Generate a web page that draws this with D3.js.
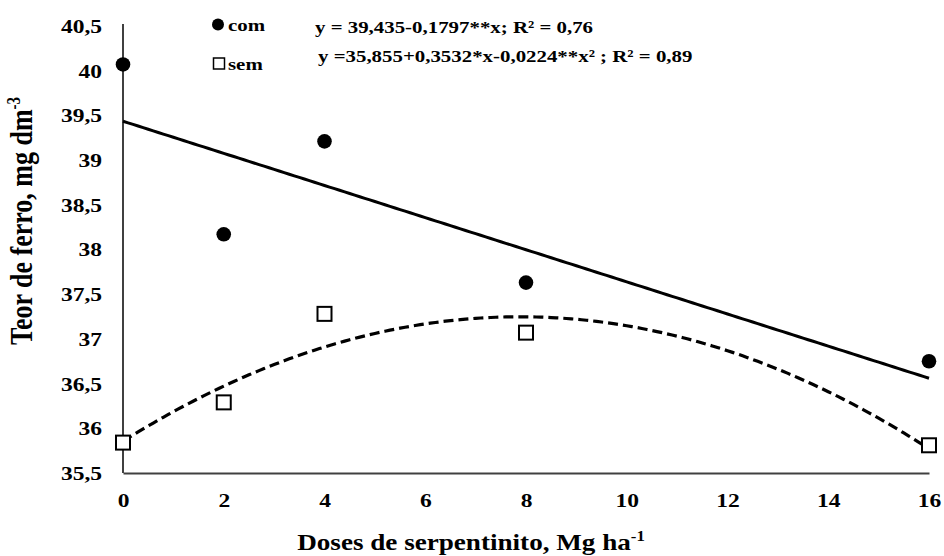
<!DOCTYPE html>
<html><head><meta charset="utf-8">
<script src="https://cdn.jsdelivr.net/npm/d3@7"></script>
<style>body{margin:0;background:#fff}svg{display:block}svg text{font-family:"Liberation Serif","Times New Roman",serif !important;font-weight:bold;fill:#000}</style>
</head><body>
<svg id="c" width="944" height="556"></svg>
<script>
const doses = [0, 2, 4, 8, 16];
const comValues = [40.07, 38.17, 39.21, 37.63, 36.75];
const semValues = [35.84, 36.29, 37.28, 37.07, 35.81];
const xTicks = [0, 2, 4, 6, 8, 10, 12, 14, 16];
const yTicks = [35.5, 36, 36.5, 37, 37.5, 38, 38.5, 39, 39.5, 40, 40.5];
const comCoef = [39.435, -0.1797];
const semCoef = [35.855, 0.3532, -0.0224];
const eqCom = "y = 39,435-0,1797**x; R² = 0,76";
const eqSem = "y =35,855+0,3532*x-0,0224**x² ; R² = 0,89";

const SX = 1.2; // horizontal stretch of the original typography
const FONT = '"Liberation Serif", "Times New Roman", serif';
const svg = d3.select("#c");
const x = d3.scaleLinear().domain([0, 16]).range([123, 929]);
const y = d3.scaleLinear().domain([35.5, 40.5]).range([473, 26]);
const fmt = d => String(d).replace(".", ",");

// axes
const yAxis = svg.append("g").attr("transform", "translate(123,0)")
  .call(d3.axisLeft(y).tickValues(yTicks).tickSize(0).tickFormat(fmt));
yAxis.attr("font-family", FONT).attr("font-size", null);
yAxis.select(".domain").attr("stroke", "#000").attr("stroke-width", 1.5).attr("d", "M0,24V473");
yAxis.selectAll(".tick text").attr("x", 0).attr("dy", "0.33em").attr("font-size", 19.6)
  .style("font-family", FONT).style("font-weight", "bold")
  .attr("text-anchor", "end").attr("transform", `translate(-21,0) scale(${SX},1)`);

const xAxis = svg.append("g").attr("transform", "translate(0,473)")
  .call(d3.axisBottom(x).tickValues(xTicks).tickSize(0).tickPadding(20).tickFormat(fmt));
xAxis.attr("font-family", FONT).attr("font-size", null);
xAxis.select(".domain").attr("stroke", "#404040").attr("stroke-width", 2.2);
xAxis.selectAll(".tick text").attr("font-size", 19.6)
  .style("font-family", FONT).style("font-weight", "bold")
  .attr("transform", `scale(${SX},1)`);

// trend lines
const xs = d3.range(0, 16.001, 0.1);
const lin = d3.line().x(d => x(d)).y(d => y(comCoef[0] + comCoef[1] * d));
svg.append("path").attr("d", lin(xs)).attr("fill", "none").attr("stroke", "#000").attr("stroke-width", 3);
const quad = d3.line().x(d => x(d)).y(d => y(semCoef[0] + semCoef[1] * d + semCoef[2] * d * d));
svg.append("path").attr("d", quad(xs)).attr("fill", "none").attr("stroke", "#000")
  .attr("stroke-width", 3.2).attr("stroke-dasharray", "10,5");

// points
svg.selectAll(".com").data(doses).join("circle")
  .attr("cx", d => x(d)).attr("cy", (d, i) => y(comValues[i])).attr("r", 7.3).attr("fill", "#000");
svg.selectAll(".sem").data(doses).join("rect")
  .attr("x", d => x(d) - 7).attr("y", (d, i) => y(semValues[i]) - 7)
  .attr("width", 14).attr("height", 14).attr("fill", "#fff").attr("stroke", "#000").attr("stroke-width", 2);

function stext(px, py, size, str, anchor) {
  return svg.append("text").attr("transform", `translate(${px},${py}) scale(${SX},1)`)
    .attr("font-size", size).attr("text-anchor", anchor || "start").text(str);
}

// legend
svg.append("circle").attr("cx", 218).attr("cy", 24.5).attr("r", 6).attr("fill", "#000");
stext(228, 31, 17.4, "com");
svg.append("rect").attr("x", 213.5).attr("y", 58).attr("width", 11).attr("height", 11)
  .attr("fill", "#fff").attr("stroke", "#000").attr("stroke-width", 1.5);
stext(228, 70, 17.4, "sem");

stext(315, 33, 17.4, eqCom);
stext(318, 62, 17.4, eqSem);

// axis titles
const xt = svg.append("text").attr("transform", `translate(471,550) scale(${SX},1)`)
  .attr("text-anchor", "middle").attr("font-size", 22.6);
xt.append("tspan").text("Doses de serpentinito, Mg ha");
xt.append("tspan").attr("dy", -9).attr("font-size", 14).text("-1");

const yt = svg.append("text").attr("transform", `translate(32,221) scale(${SX},1) rotate(-90)`)
  .attr("text-anchor", "middle").attr("font-size", 26);
yt.append("tspan").text("Teor de ferro, mg dm");
yt.append("tspan").attr("dy", -10).attr("font-size", 15).text("-3");
</script>
</body></html>
